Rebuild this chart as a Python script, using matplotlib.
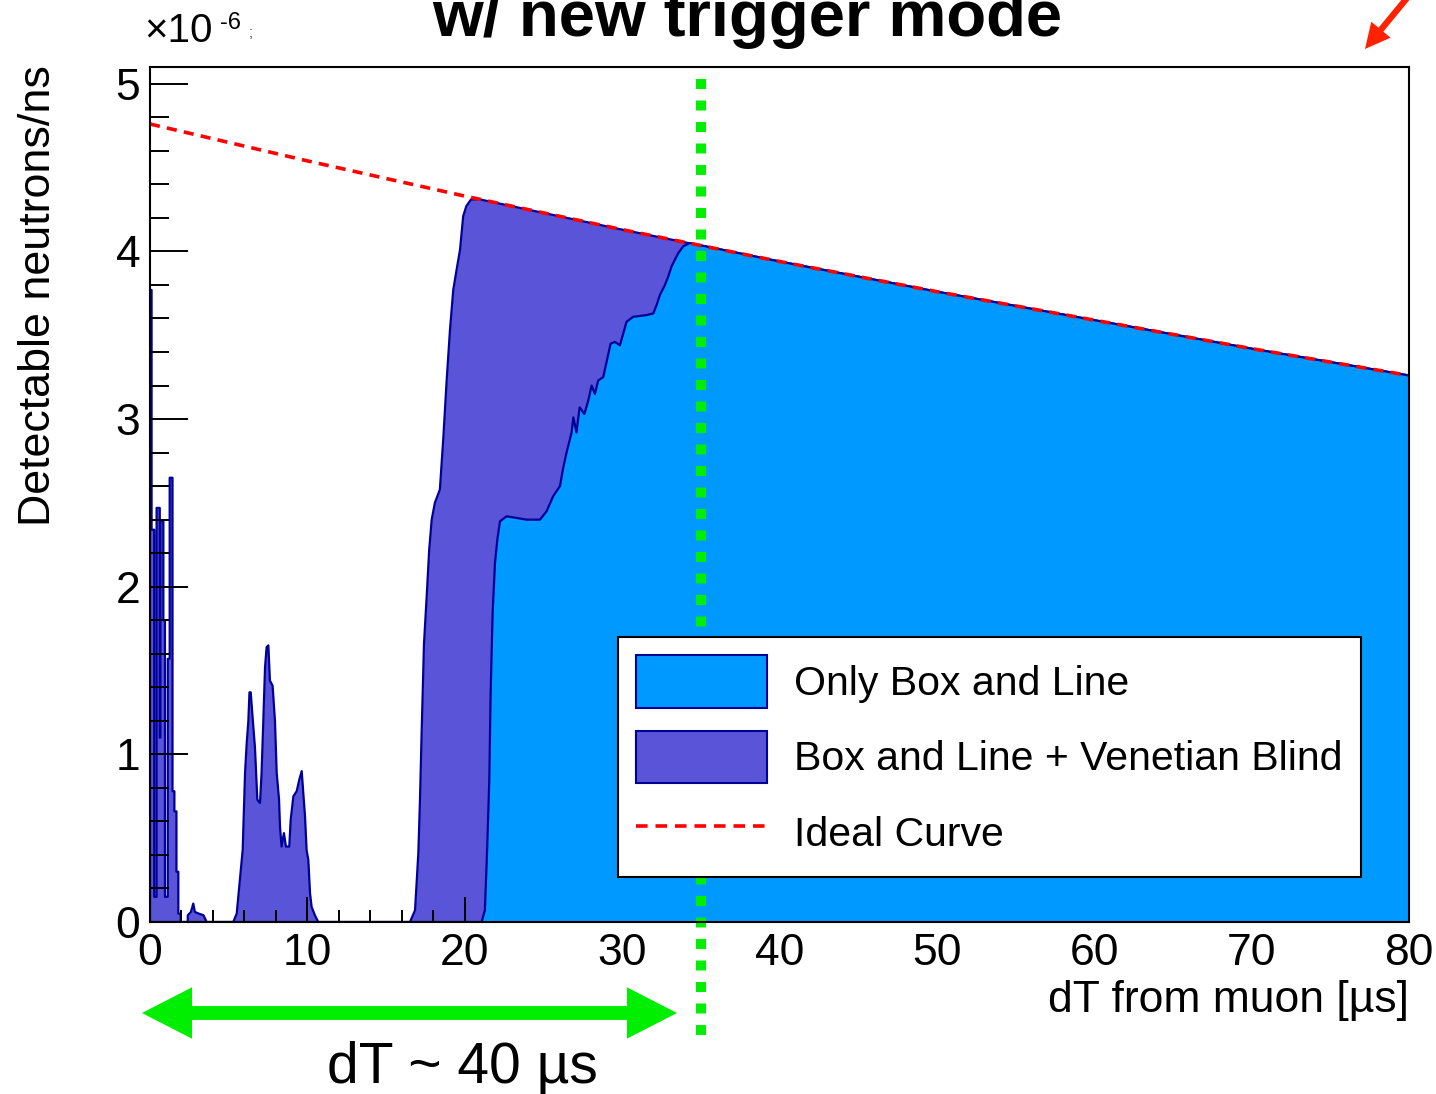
import matplotlib
matplotlib.use('Agg')
import matplotlib.pyplot as plt
from matplotlib.patches import Patch, FancyArrowPatch
from matplotlib.lines import Line2D

plt.rcParams['font.family'] = ['Liberation Sans', 'DejaVu Sans']

# ideal curve (x in us, y in 1e-6 neutrons/ns)
ideal_x = [0, 10, 20, 30, 40, 50, 60, 70, 80]
ideal_y = [4.76, 4.54, 4.33, 4.13, 3.94, 3.76, 3.59, 3.42, 3.26]

# "Box and Line + Venetian Blind" outline up to where it joins the ideal curve
vb_x = [0.0, 0.0, 0.1, 0.1, 0.27, 0.27, 0.42, 0.42, 0.62, 0.62, 0.66, 0.66, 0.85, 0.85,
        0.95, 0.95, 1.13, 1.13, 1.25, 1.25, 1.43, 1.43, 1.55, 1.55, 1.68, 1.68, 1.80, 1.80,
        1.95, 1.95,
        2.4, 2.4, 2.6, 2.75, 2.85, 3.1, 3.4, 3.6,
        5.29, 5.51, 5.72, 5.89, 6.04, 6.14, 6.25, 6.32, 6.40, 6.52, 6.67, 6.82, 6.99, 7.09,
        7.20, 7.31, 7.41, 7.52, 7.62, 7.79, 7.94, 8.05, 8.20, 8.26, 8.36, 8.51, 8.64, 8.85,
        8.94, 9.11, 9.32, 9.49, 9.64, 9.74, 9.85, 9.95, 10.06, 10.17, 10.27, 10.48, 10.69,
        16.52, 16.84, 16.94, 17.05, 17.15, 17.26, 17.32, 17.41, 17.58, 17.74, 17.9, 18.1,
        18.42, 18.64, 18.85, 19.06, 19.27, 19.48, 19.7, 19.9, 20.1, 20.4, 20.97]
vb_y = [0, 3.77, 3.77, 2.34, 2.34, 0.15, 0.15, 2.47, 2.47, 1.1, 1.1, 2.39, 2.39, 1.8,
        1.8, 0.15, 0.15, 1.57, 1.57, 2.65, 2.65, 0.78, 0.78, 0.66, 0.66, 0.3, 0.3, 0.05,
        0.05, 0,
        0, 0.04, 0.06, 0.11, 0.06, 0.05, 0.04, 0,
        0, 0.05, 0.26, 0.43, 0.89, 1.06, 1.2, 1.37, 1.37, 1.22, 1.04, 0.73, 0.71, 0.89,
        1.2, 1.52, 1.64, 1.65, 1.44, 1.41, 1.2, 0.89, 0.73, 0.57, 0.45, 0.53, 0.45, 0.45,
        0.61, 0.75, 0.78, 0.85, 0.9, 0.77, 0.63, 0.43, 0.37, 0.17, 0.09, 0.04, 0,
        0, 0.07, 0.23, 0.41, 0.71, 1.13, 1.34, 1.66, 1.94, 2.22, 2.40, 2.50,
        2.58, 2.89, 3.23, 3.53, 3.77, 3.89, 4.01, 4.21, 4.27, 4.31, 4.31]

# "Only Box and Line" outline up to where it joins the ideal curve
bl_x = [0, 21.07, 21.28, 21.43, 21.56, 21.64, 21.77, 21.92, 22.07, 22.24, 22.66, 23.93,
        24.78, 25.2, 25.62, 26.05, 26.26, 26.47, 26.79, 26.9, 27.1, 27.3, 27.6, 27.85,
        28.06, 28.27, 28.48, 28.8, 29.01, 29.27, 29.54, 29.86, 30.07, 30.28, 30.7, 31.55,
        31.98, 32.19, 32.4, 32.72, 32.93, 33.14, 33.35, 33.57, 33.88, 34.3]
bl_y = [0, 0, 0.07, 0.45, 0.85, 1.34, 1.84, 2.14, 2.28, 2.39, 2.42, 2.40,
        2.40, 2.45, 2.54, 2.60, 2.71, 2.80, 2.92, 3.01, 2.92, 3.07, 3.03, 3.11,
        3.20, 3.15, 3.23, 3.25, 3.34, 3.45, 3.46, 3.44, 3.51, 3.58, 3.61, 3.62,
        3.63, 3.68, 3.74, 3.80, 3.85, 3.91, 3.95, 3.99, 4.03, 4.05]

# after joining, both histograms follow the ideal curve
vb_y = vb_y + [y for x, y in zip(ideal_x, ideal_y) if x > vb_x[-1]]
vb_x = vb_x + [x for x in ideal_x if x > vb_x[-1]]
bl_y = bl_y + [y for x, y in zip(ideal_x, ideal_y) if x > bl_x[-1]]
bl_x = bl_x + [x for x in ideal_x if x > bl_x[-1]]

W, H = 1436, 1094
fig = plt.figure(figsize=(W / 100, H / 100), dpi=100)
ax = fig.add_axes([150 / W, 172 / H, 1259 / W, 855 / H])

edge = '#000099'
ax.fill_between(vb_x, vb_y, 0, color='#5a55d8', lw=0, zorder=1)
ax.plot(vb_x, vb_y, color=edge, lw=1.6, zorder=1.5)
ax.fill_between(bl_x, bl_y, 0, color='#0099ff', lw=0, zorder=2)
ax.plot(bl_x, bl_y, color=edge, lw=1.6, zorder=2.5)
ax.plot(ideal_x, ideal_y, color='#ff0000', lw=2.6, dashes=(2.8, 2.0), zorder=3)

# green trigger window line
ax.axvline(35, ymin=-0.132, ymax=0.987, clip_on=False, color='#00ee00', lw=7.2,
           dashes=(1.0, 1.15), dash_capstyle='butt', zorder=4)

ax.set_xlim(0, 80)
ax.set_ylim(0, 5.1)
ax.set_xticks(range(0, 81, 10))
ax.set_xticks(range(0, 81, 2), minor=True)
ax.set_yticks(range(0, 6))
ax.set_yticks([i * 0.2 for i in range(26)], minor=True)
ax.tick_params(which='both', direction='in', width=1.4, labelsize=32, top=False, right=False)
ax.tick_params(axis='y', which='major', length=27, pad=7)
ax.tick_params(axis='y', which='minor', length=13.5)
ax.tick_params(axis='x', which='major', length=18, pad=8)
ax.tick_params(axis='x', which='minor', length=9)
for s in ax.spines.values():
    s.set_linewidth(1.5)
    s.set_zorder(5)

handles = [Patch(facecolor='#0099ff', edgecolor=edge, lw=1.5),
           Patch(facecolor='#5a55d8', edgecolor=edge, lw=1.5),
           Line2D([], [], color='#ff0000', lw=2.6, dashes=(3.2, 2.2))]
labels = ['Only Box and Line', 'Box and Line + Venetian Blind', 'Ideal Curve']
leg = ax.legend(handles, labels, loc='upper left', bbox_to_anchor=(0.3717, 0.3333),
                fontsize=29.5, frameon=True, fancybox=False, framealpha=1,
                edgecolor='black', borderpad=0.44, handlelength=3.2, handleheight=1.6,
                handletextpad=0.66, labelspacing=0.56, borderaxespad=0)
leg.get_frame().set_linewidth(1.5)
leg.set_zorder(6)

# labels and title
fig.text(1409 / W, 1 - 1012 / H, 'dT from muon [\u00b5s]', fontsize=32, ha='right', va='baseline')
fig.text(39 / W, 1 - 65 / H, 'Detectable neutrons/ns', fontsize=32.3, rotation=90,
         ha='center', va='top')
fig.text(747 / W, 1 - 36 / H, 'w/ new trigger mode', fontsize=47, fontweight='bold',
         ha='center', va='baseline')
fig.text(144 / W, 1 - 42 / H, '\u00d710', fontsize=29, ha='left', va='baseline')
fig.text(220 / W, 1 - 29 / H, '-6', fontsize=17, ha='left', va='baseline')
fig.text(249 / W, 1 - 37 / H, ';', fontsize=11, color='#444444', ha='left', va='baseline')

# green double arrow and its label
yc = 1 - 1013 / H
xm = 410 / W
for xe in (142 / W, 677 / W):
    fig.patches.append(FancyArrowPatch((xm, yc), (xe, yc), transform=fig.transFigure,
                                       arrowstyle='simple,head_length=36,head_width=37,tail_width=10',
                                       color='#00ee00', lw=0, shrinkA=0, shrinkB=0))
fig.text(462 / W, 1 - 1083 / H, 'dT ~ 40 \u00b5s', fontsize=41, ha='center', va='baseline')

# red arrow at the top right
fig.patches.append(FancyArrowPatch((1412 / W, 1 + 8 / H), (1365 / W, 1 - 49 / H),
                                   transform=fig.transFigure,
                                   arrowstyle='simple,head_length=18,head_width=18,tail_width=4.5',
                                   color='#ff2200', lw=0, shrinkA=0, shrinkB=0))

fig.savefig('out.png', dpi=100)
